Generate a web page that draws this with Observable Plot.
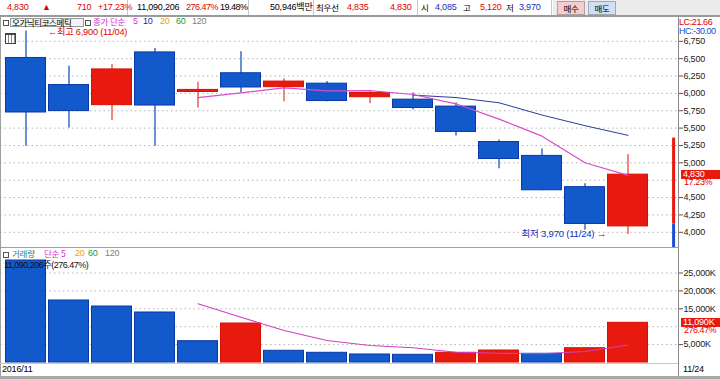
<!DOCTYPE html>
<html><head><meta charset="utf-8">
<script src="https://cdn.jsdelivr.net/npm/d3@7"></script>
<script src="https://cdn.jsdelivr.net/npm/@observablehq/plot@0.6"></script>
<style>
body{margin:0;background:#fff;}
#root{position:relative;width:720px;height:379px;overflow:hidden;background:#fff;font-family:"Liberation Sans","Noto Sans CJK KR",sans-serif;font-size:9px;letter-spacing:-0.2px;color:#000;}
.abs{position:absolute;white-space:nowrap;line-height:11px;}
.k{font-family:"Noto Sans CJK KR",sans-serif;font-size:8.5px;letter-spacing:-0.2px;}
svg{position:absolute;left:0;}
</style></head><body><div id="root"></div>
<script>
// ---- data ----
const dates  = ["11/04","11/07","11/08","11/09","11/10","11/11","11/14","11/15","11/16","11/17","11/18","11/21","11/22","11/23","11/24"];
const opens  = [6510,6120,5830,6590,6020,6290,6090,6140,5945,5910,5810,5300,5100,4650,4085];
const highs  = [6900,6390,6415,6645,6160,6600,6210,6170,6040,6005,5860,5330,5200,4700,5120];
const lows   = [5240,5500,5610,5240,5790,6010,5880,5880,5850,5760,5385,4915,4600,4030,3970];
const closes = [5725,5745,6345,5825,6050,6085,6170,5890,6005,5790,5445,5055,4605,4120,4830];
const ma5    = [null,null,null,null,5938,6007,6079,6035,6041,5984,5850,5630,5384,5002,4820];
const ma10   = [null,null,null,null,null,null,null,null,null,5975,5940,5865,5688,5535,5396];
const volumes = [28490,17320,15640,13970,5950,10890,3270,2710,2240,2150,2710,3350,2430,3990,11090]; // K shares
const volDir  = ["down","down","down","down","down","up","down","down","down","down","up","up","down","up","up"];
const volMa5  = [null,null,null,null,16400,12650,8940,6150,4750,4110,2880,2600,2430,3070,4900];
const priceGrid  = [4000,4250,4500,4750,5000,5250,5500,5750,6000,6250,6500,6750];
const priceTicks = [4000,4250,4500,5000,5250,5500,5750,6000,6250,6500,6750];
const volGrid  = [5000,10000,15000,20000,25000];
const volTicks = [5000,15000,20000,25000];
const prevClose = 4120, upperLimit = 5356, lowerLimit = 2884;
const highNote = "←최고 6,900 (11/04)", lowNote = "최저 3,970 (11/24) →";
const monthLabel = "2016/11", lastLabel = "11/24";

// ---- colours ----
const RED = "#e8190e", RED_E = "#d81000", RED_W = "#e8584e";
const BLUE = "#1259cc", BLUE_E = "#0a38a8", BLUE_W = "#2a62c4";
const GRID = "#b4b4b4";

const root = document.getElementById("root");
function add(html, css, cls){ const d=document.createElement("div"); d.className="abs "+(cls||""); d.innerHTML=html; Object.assign(d.style,css); root.appendChild(d); return d; }

const candles = dates.map((d,i)=>({date:d,open:opens[i],high:highs[i],low:lows[i],close:closes[i],up:closes[i]>=opens[i]}));
const ma5d = dates.map((d,i)=>({date:d,v:ma5[i]})).filter(d=>d.v!=null);
const ma10d = dates.map((d,i)=>({date:d,v:ma10[i]})).filter(d=>d.v!=null);
const vols = dates.map((d,i)=>({date:d,v:volumes[i],up:volDir[i]==="up"}));
const vma5d = dates.map((d,i)=>({date:d,v:volMa5[i]})).filter(d=>d.v!=null);

const xOpts = {type:"band", domain:dates, range:[2,650.6], paddingInner:0.055, paddingOuter:0, axis:null};
const baseStyle = {background:"transparent", fontFamily:"Liberation Sans, Noto Sans CJK KR, sans-serif", fontSize:"9px", color:"#222"};

// ---- price pane ----
const PTOP = 18;
const price = Plot.plot({
  width:720, height:229, marginLeft:0, marginRight:42, marginTop:0, marginBottom:0,
  x: xOpts,
  y: {domain:[4000,6750], range:[231.8-PTOP, 40.8-PTOP], label:null},
  color:{type:"identity"},
  style: baseStyle,
  marks:[
    Plot.ruleY(priceGrid, {stroke:GRID, strokeDasharray:"1.5,3"}),
    Plot.axisY({anchor:"right", label:null, ticks:priceTicks, tickSize:4, tickPadding:1, tickFormat:d3.format(","), stroke:"#555", fill:"#222"}),
    Plot.ruleX([{a:prevClose,b:upperLimit,c:RED},{a:lowerLimit,b:prevClose,c:"#1a50d0"}], {x:()=>lastLabel, y1:"a", y2:"b", stroke:"c", strokeWidth:3, dx:45.6, clip:true}),
    Plot.ruleX(candles, {x:"date", y1:"low", y2:"high", stroke:d=>d.up?RED_W:BLUE_W, strokeWidth:1.4}),
    Plot.barY(candles, {x:"date", y1:"open", y2:"close", fill:d=>d.up?RED:BLUE, stroke:d=>d.up?RED_E:BLUE_E, strokeWidth:1, insetLeft:0.5, insetRight:0.5}),
    Plot.line(ma10d, {x:"date", y:"v", stroke:"#2c3c98", strokeWidth:1}),
    Plot.line(ma5d, {x:"date", y:"v", stroke:"#d84ccc", strokeWidth:1.2}),
    Plot.text([0], {x:()=>dates[0], y:()=>highs[0], text:()=>highNote, dx:22, dy:1.5, textAnchor:"start", fill:"#e00000", fontSize:9.2}),
    Plot.text([0], {x:()=>lastLabel, y:()=>Math.min(...lows), text:()=>lowNote, dx:-22, textAnchor:"end", fill:"#1030c0", fontSize:9.5})
  ]
});
price.style.top = PTOP+"px";
root.appendChild(price);

// ---- volume pane ----
const VTOP = 248;
const volume = Plot.plot({
  width:720, height:115, marginLeft:0, marginRight:42, marginTop:0, marginBottom:0,
  x: xOpts,
  y: {domain:[0,25000], range:[362-VTOP, 272.5-VTOP], label:null},
  color:{type:"identity"},
  style: baseStyle,
  marks:[
    Plot.ruleY(volGrid, {stroke:GRID, strokeDasharray:"1.5,3"}),
    Plot.axisY({anchor:"right", label:null, ticks:volTicks, tickSize:4, tickPadding:1, tickFormat:d=>d3.format(",")(d)+"K", stroke:"#555", fill:"#222"}),
    Plot.barY(vols, {x:"date", y:"v", fill:d=>d.up?RED:BLUE, stroke:d=>d.up?RED_E:BLUE_E, strokeWidth:1, insetLeft:0.5, insetRight:0.5}),
    Plot.line(vma5d, {x:"date", y:"v", stroke:"#d040c0", strokeWidth:1.1})
  ]
});
volume.style.top = VTOP+"px";
root.appendChild(volume);

// ---- frame / chrome ----
add("", {left:"0",top:"0",width:"720px",height:"16px",background:"#ececec"});
add("", {left:"0",top:"0",width:"553px",height:"15px",background:"#fff"});
add("", {left:"0",top:"15px",width:"720px",height:"2px",background:"#9a9a9a"});
[127,248,313,417,551].forEach(x=>add("",{left:x+"px",top:"0",width:"1px",height:"15px",background:"#c8c8c8"}));
add("", {left:"0",top:"17px",width:"1px",height:"360px",background:"#a0a0a0"});
add("", {left:"678px",top:"17px",width:"1px",height:"360px",background:"#8a8a8a"});
add("", {left:"0",top:"247px",width:"678px",height:"1px",background:"#a0a0a0"});
add("", {left:"0",top:"363px",width:"678px",height:"1px",background:"#c8c8c8"});
add("", {left:"0",top:"376px",width:"720px",height:"3px",background:"#a8a8a8"});

// top bar
const R="#e00000", B="#1030c0", K="#000";
[["4,830",7,R],["▲",42,R],["710",77,R],["+17.23%",98,R],["11,090,206",137,K],["276.47%",186,R,-0.5],["19.48%",220,K,-0.5],
 ["50,946백만",270,K],["4,835",347,R],["4,830",390,R],["4,085",435,B],
 ["5,120",480,R],["3,970",519,B]].forEach(([t,x,c,ls])=>add(t,{left:x+"px",top:"2px",color:c,letterSpacing:(ls??-0.2)+"px"}));
[["최우선",316],["시",421],["고",463],["저",506]].forEach(([t,x])=>add(t,{left:x+"px",top:"2px",color:K},"k"));
add("매수",{left:"557px",top:"1px",width:"26px",height:"12px",lineHeight:"12px",textAlign:"center",background:"#f6cccc",border:"1px solid #b0a0a0"},"k");
add("매도",{left:"588px",top:"1px",width:"26px",height:"12px",lineHeight:"12px",textAlign:"center",background:"#cfe0f6",border:"1px solid #a0a8b8"},"k");

// price legend
add("",{left:"3px",top:"20px",width:"4px",height:"4px",border:"1px solid #555"});
add("오가닉티코스메틱",{left:"10px",top:"18px",width:"70px",height:"7px",lineHeight:"7px",padding:"0 1px",border:"1px solid #999",background:"#f4f4f4",letterSpacing:"-0.4px"},"k");
add("",{left:"85px",top:"20px",width:"4px",height:"4px",border:"1px solid #555"});
[["종가 단순",93,"#cc33cc",1],["5",133,"#cc33cc"],["10",143,"#1a2aa0"],["20",160,"#f0a000"],["60",176,"#1a9a40"],["120",192,"#808080"]]
  .forEach(([t,x,c,k])=>add(t,{left:x+"px",top:"17px",lineHeight:"9px",color:c},k?"k":""));
add("",{left:"5px",top:"33px",width:"9px",height:"8px",border:"1px solid #444",borderTop:"2px solid #444",background:"repeating-linear-gradient(90deg,#fff 0 2px,#888 2px 3px)"});
add("LC:21.66",{left:"679px",top:"17px",color:"#e00000",letterSpacing:"-0.4px"});
add("HC:-30.00",{left:"679px",top:"26px",color:"#1050d0",letterSpacing:"-0.5px"});

// current price label
const yP = price.scale("y").apply(closes[closes.length-1]) + PTOP;
add("4,830",{left:"681px",top:(yP-4.5)+"px",width:"39px",height:"9px",lineHeight:"9px",background:RED,color:"#fff",paddingLeft:"2px"});
add("17.23%",{left:"684px",top:(yP+3)+"px",color:"#e00000",letterSpacing:"-0.4px"});

// volume legend
add("",{left:"3px",top:"252px",width:"4px",height:"4px",border:"1px solid #555"});
[["거래량",12,"#1a8a8a",1],["단순 5",44,"#cc33cc",1],["20",75,"#f0a000"],["60",88,"#1a9a40"],["120",105,"#808080"]]
  .forEach(([t,x,c,k])=>add(t,{left:x+"px",top:"248.5px",lineHeight:"9px",color:c},k?"k":""));
add("11,090,206주(276.47%)",{left:"4px",top:"260.5px",lineHeight:"9px",color:"#111",letterSpacing:"-0.5px"});
const yV = volume.scale("y").apply(volumes[volumes.length-1]) + VTOP;
add("11,090K",{left:"681px",top:(yV-4.5)+"px",width:"39px",height:"9px",lineHeight:"9px",background:RED,color:"#fff",paddingLeft:"2px"});
add("276.47%",{left:"684px",top:(yV+3)+"px",color:"#e00000",letterSpacing:"-0.5px"});

// bottom strip
add(monthLabel,{left:"2px",top:"364px"});
add(lastLabel,{left:"683px",top:"364px"});
</script></body></html>
